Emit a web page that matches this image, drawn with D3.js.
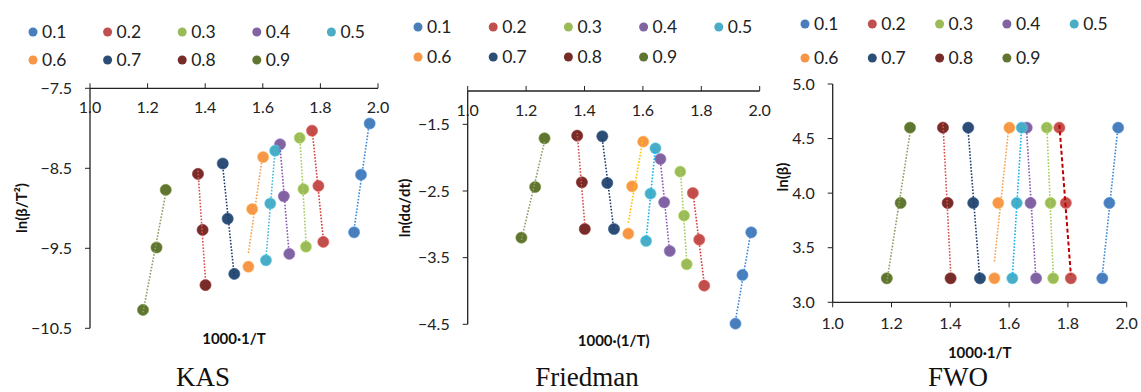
<!DOCTYPE html>
<html>
<head>
<meta charset="utf-8">
<script src="https://cdn.jsdelivr.net/npm/d3@7"></script>
<style>
  body { margin: 0; background: #fff; }
  svg { display: block; }
  .tick-label { font-family: Lato, "Open Sans", sans-serif; font-size: 16px; fill: #222; }
  .legend-label { font-family: Lato, "Open Sans", sans-serif; font-size: 17.5px; fill: #222; }
  .axis-title { font-family: Lato, "Open Sans", sans-serif; font-size: 15px; font-weight: bold; fill: #111; }
  .panel-name { font-family: "Liberation Serif", "DejaVu Serif", serif; font-size: 27px; fill: #111; }
</style>
</head>
<body>
<svg id="chart" width="1141" height="392"></svg>
<script>
// conversion degrees
const alphas = ['0.1', '0.2', '0.3', '0.4', '0.5', '0.6', '0.7', '0.8', '0.9'];

// 1000/T for heating rates 100, 50, 25 K/min, one row per alpha
const invT = [
  [1.971, 1.941, 1.917],
  [1.771, 1.793, 1.810],
  [1.728, 1.741, 1.750],
  [1.660, 1.673, 1.692],
  [1.643, 1.626, 1.611],
  [1.601, 1.563, 1.550],
  [1.461, 1.478, 1.501],
  [1.375, 1.391, 1.401],
  [1.263, 1.231, 1.184],
];

// ln(beta/T^2)
const kasY = [
  [-7.94, -8.58, -9.30],
  [-8.03, -8.72, -9.42],
  [-8.12, -8.76, -9.48],
  [-8.20, -8.85, -9.57],
  [-8.28, -8.94, -9.65],
  [-8.36, -9.01, -9.73],
  [-8.44, -9.13, -9.82],
  [-8.57, -9.27, -9.96],
  [-8.77, -9.49, -10.27],
];

// ln(dalpha/dt)
const friedmanY = [
  [-3.12, -3.76, -4.49],
  [-2.53, -3.23, -3.92],
  [-2.21, -2.87, -3.60],
  [-2.02, -2.67, -3.40],
  [-1.86, -2.54, -3.25],
  [-1.76, -2.43, -3.14],
  [-1.68, -2.38, -3.07],
  [-1.67, -2.37, -3.07],
  [-1.71, -2.44, -3.20],
];

// ln(beta), same for every alpha
const lnBeta = [4.60, 3.91, 3.22];

const kasTicks = [-10.5, -9.5, -8.5, -7.5];
const friedmanTicks = [-4.5, -3.5, -2.5, -1.5];
const fwoTicks = [3.0, 3.5, 4.0, 4.5, 5.0];
const xTicks = [1.0, 1.2, 1.4, 1.6, 1.8, 2.0];

const markerColors = ['#4A7EBB', '#C0504D', '#9BBB59', '#8064A2', '#4BACC6',
  '#F79646', '#2C4D75', '#772C2A', '#5F7530'];
const lineColors = ['#3C8AD8', '#D83A3A', '#A6CC62', '#8A58B0', '#45B8D8',
  '#F9A04E', '#1F3E6E', '#D8504C', '#8C9E62'];

const svg = d3.select('#chart');
const fmt = d3.format('.1f');

// least squares fit y = a + b*x, drawn over the x range of the points
function trend(xs, ys) {
  const mx = d3.mean(xs);
  const my = d3.mean(ys);
  const b = d3.sum(xs, (x, i) => (x - mx) * (ys[i] - my)) / d3.sum(xs, (x) => (x - mx) ** 2);
  const a = my - b * mx;
  const [x0, x1] = d3.extent(xs);
  return [[x0, a + b * x0], [x1, a + b * x1]];
}

const panels = [
  {
    name: 'KAS', values: kasY, yDomain: [-10.5, -7.5], yTicks: kasTicks,
    xRange: [90, 378], yRange: [328.3, 88.3], xAxisTop: true,
    yTitle: 'ln(β/T²)', yTitleX: 22, yTitleY: 208,
    xTitle: '1000·1/T', xTitleY: 344,
    legendX: 33, legendDX: 74.6, legendY: [32, 60],
    nameX: 203,
  },
  {
    name: 'Friedman', values: friedmanY, yDomain: [-4.5, -1.0], yTicks: friedmanTicks,
    xRange: [467.7, 759.7], yRange: [324.3, 91], xAxisTop: true,
    yTitle: 'ln(dα/dt)', yTitleX: 405, yTitleY: 208,
    xTitle: '1000·(1/T)', xTitleY: 346,
    legendX: 418, legendDX: 75.2, legendY: [27, 57],
    nameX: 587,
    lineOverride: { 4: '#12B4EE', 5: '#FFC000' },
  },
  {
    name: 'FWO', values: alphas.map(() => lnBeta), yDomain: [3.0, 5.0], yTicks: fwoTicks,
    xRange: [832.7, 1126.7], yRange: [302.3, 84], xAxisTop: false,
    yTitle: 'ln(β)', yTitleX: 783, yTitleY: 177,
    xTitle: '1000·1/T', xTitleY: 358,
    legendX: 805, legendDX: 67.3, legendY: [24, 58],
    nameX: 958,
    lineOverride: { 4: '#12B4EE' },
    dashed: { 1: '#C00000' },
  },
];

panels.forEach((p) => {
  const x = d3.scaleLinear().domain([1, 2]).range(p.xRange);
  const y = d3.scaleLinear().domain(p.yDomain).range(p.yRange);
  const g = svg.append('g');

  // axes
  const axisY = p.xAxisTop ? p.yRange[1] : p.yRange[0];
  g.append('line')
    .attr('x1', p.xRange[0]).attr('x2', p.xRange[1])
    .attr('y1', axisY).attr('y2', axisY)
    .attr('stroke', '#222').attr('stroke-width', 1.3);
  g.append('line')
    .attr('x1', p.xRange[0]).attr('x2', p.xRange[0])
    .attr('y1', p.yRange[0]).attr('y2', p.yRange[1])
    .attr('stroke', '#222').attr('stroke-width', 1.3);

  g.selectAll('.xtick')
    .data(xTicks)
    .enter().append('line')
    .attr('x1', (d) => x(d)).attr('x2', (d) => x(d))
    .attr('y1', axisY).attr('y2', p.xAxisTop ? axisY - 5 : axisY + 5)
    .attr('stroke', '#222');
  g.selectAll('.xlab')
    .data(xTicks)
    .enter().append('text')
    .attr('class', 'tick-label')
    .attr('x', (d) => x(d))
    .attr('y', p.xAxisTop ? axisY + 19 : axisY + 21)
    .attr('dy', '0.35em')
    .attr('text-anchor', 'middle')
    .text((d) => fmt(d));

  g.selectAll('.ytick')
    .data(p.yTicks)
    .enter().append('line')
    .attr('x1', p.xRange[0] - 5).attr('x2', p.xRange[0])
    .attr('y1', (d) => y(d)).attr('y2', (d) => y(d))
    .attr('stroke', '#222');
  g.selectAll('.ylab')
    .data(p.yTicks)
    .enter().append('text')
    .attr('class', 'tick-label')
    .attr('x', p.xRange[0] - 18)
    .attr('y', (d) => y(d))
    .attr('dy', '0.35em')
    .attr('text-anchor', 'end')
    .text((d) => fmt(d));

  // titles
  g.append('text')
    .attr('class', 'axis-title')
    .attr('transform', `translate(${p.yTitleX},${p.yTitleY}) rotate(-90)`)
    .attr('dy', '0.35em')
    .attr('text-anchor', 'middle')
    .text(p.yTitle);
  g.append('text')
    .attr('class', 'axis-title')
    .attr('x', (p.xRange[0] + p.xRange[1]) / 2)
    .attr('y', p.xTitleY)
    .attr('text-anchor', 'middle')
    .text(p.xTitle);
  g.append('text')
    .attr('class', 'panel-name')
    .attr('x', p.nameX)
    .attr('y', 386)
    .attr('text-anchor', 'middle')
    .text(p.name);

  // markers per alpha
  const series = alphas.map((a, i) => ({
    i,
    pts: invT[i].map((t, k) => [t, p.values[i][k]]),
  }));

  const sg = g.selectAll('.series')
    .data(series)
    .enter().append('g');

  sg.selectAll('circle')
    .data((d) => d.pts.map((pt) => ({ pt, i: d.i })))
    .enter().append('circle')
    .attr('cx', (d) => x(d.pt[0]))
    .attr('cy', (d) => y(d.pt[1]))
    .attr('r', 5.6)
    .attr('fill', (d) => markerColors[d.i])
    .attr('stroke', (d) => d3.color(markerColors[d.i]).brighter(0.6))
    .attr('stroke-opacity', 0.6)
    .attr('stroke-width', 1);

  // linear trendlines drawn over the markers
  const dashed = p.dashed || {};
  const override = p.lineOverride || {};
  g.selectAll('.trend')
    .data(series)
    .enter().append('line')
    .each(function (d) {
      const seg = trend(d.pts.map((q) => q[0]), d.pts.map((q) => q[1]));
      const isDashed = dashed[d.i] !== undefined;
      d3.select(this)
        .attr('x1', x(seg[0][0])).attr('y1', y(seg[0][1]))
        .attr('x2', x(seg[1][0])).attr('y2', y(seg[1][1]))
        .attr('stroke', isDashed ? dashed[d.i] : (override[d.i] || lineColors[d.i]))
        .attr('stroke-width', isDashed ? 2 : 1.6)
        .attr('stroke-dasharray', isDashed ? '4,2.5' : '1.6,1.6');
    });

  // legend, five per row
  const lg = g.selectAll('.legend')
    .data(alphas)
    .enter().append('g')
    .attr('transform', (d, i) => `translate(${p.legendX + (i % 5) * p.legendDX},${p.legendY[Math.floor(i / 5)]})`);
  lg.append('circle')
    .attr('r', 4.5)
    .attr('fill', (d, i) => markerColors[i]);
  lg.append('text')
    .attr('class', 'legend-label')
    .attr('x', 9)
    .attr('dy', '0.35em')
    .text((d) => d);
});
</script>
</body>
</html>
